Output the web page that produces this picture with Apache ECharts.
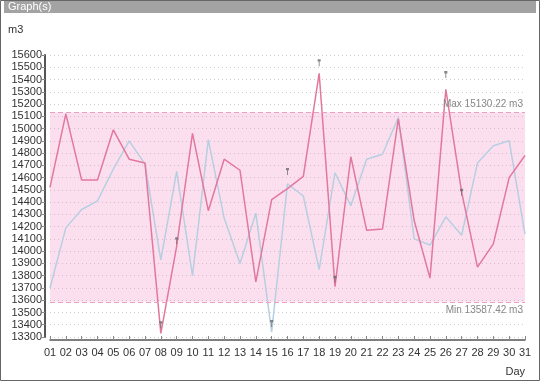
<!DOCTYPE html>
<html>
<head>
<meta charset="utf-8">
<script src="https://cdn.jsdelivr.net/npm/echarts@6/dist/echarts.min.js"></script>
<style>
html,body{margin:0;padding:0;background:#fff;}
#chart{width:540px;height:381px;}
</style>
</head>
<body>
<div id="chart"></div>
<script>
var days = ['01','02','03','04','05','06','07','08','09','10','11','12','13','14','15','16','17','18','19','20','21','22','23','24','25','26','27','28','29','30','31'];
var pinkValues = [14520,15120,14580,14580,14990,14750,14720,13330,14040,14960,14330,14750,14660,13750,14420,14510,14610,15450,13710,14770,14170,14180,15080,14250,13780,15320,14480,13870,14060,14600,14780];
var blueValues = [13700,14190,14340,14410,14670,14900,14710,13930,14650,13800,14910,14270,13900,14310,13340,14550,14450,13850,14640,14370,14750,14790,15090,14100,14050,14280,14130,14720,14860,14900,14140];
var markerDays = ['08','09','15','16','18','19','26','27'];
var markerValues = [13400,14085,13410,14650,15537,13770,15440,14480];
var maxVal = 15130.22;
var minVal = 13587.42;
var yTicks = {min:13300, max:15600, interval:100};
var unitName = 'm3';
var dayName = 'Day';

var chart = echarts.init(document.getElementById('chart'), null, {renderer:'canvas'});
var font = 'Liberation Sans, Arial, sans-serif';
var option = {
  animation:false,
  textStyle:{fontFamily:font},
  grid:{left:50, right:15, top:55, bottom:44, containLabel:false},
  xAxis:{
    type:'category', data:days, boundaryGap:false, offset:3,
    name:dayName, nameLocation:'end', nameGap:0,
    nameTextStyle:{color:'#333', fontSize:11, align:'right', verticalAlign:'top', padding:[26,0,0,0]},
    axisLine:{lineStyle:{color:'#555', width:1.5}},
    axisTick:{inside:true, length:4, alignWithLabel:true, lineStyle:{color:'#888'}},
    axisLabel:{color:'#333', fontSize:11, margin:7, interval:0},
    splitLine:{show:false}
  },
  yAxis:{
    type:'value', min:yTicks.min, max:yTicks.max, interval:yTicks.interval, offset:5,
    axisLine:{show:true, lineStyle:{color:'#555', width:2}},
    axisTick:{show:true, length:3, lineStyle:{color:'#888'}},
    axisLabel:{color:'#333', fontSize:11, margin:3, formatter:function(v){return String(v);}},
    splitLine:{show:true, lineStyle:{color:'#ccc', type:[1,3], width:1}}
  },
  series:[
    {
      type:'line', data:blueValues, symbol:'none',
      lineStyle:{color:'#b7cfe2', width:1.5}, z:3
    },
    {
      type:'line', data:pinkValues, symbol:'none',
      lineStyle:{color:'#e2789f', width:1.5}, z:4,
      markArea:{silent:true, itemStyle:{color:'rgba(244,150,200,0.3)'}, data:[[{yAxis:minVal},{yAxis:maxVal}]]},
      markLine:{silent:true, symbol:'none',
        lineStyle:{color:'#eaa0c4', type:[5,3], width:1.2},
        label:{color:'#888', fontSize:10, fontFamily:font, position:'insideEndTop', distance:[2,3]},
        data:[
          {yAxis:maxVal, label:{formatter:'Max 15130.22 m3', position:'insideEndTop'}},
          {yAxis:minVal, label:{formatter:'Min 13587.42 m3', position:'insideEndBottom'}}
        ]}
    },
    {
      type:'scatter', data:markerDays.map(function(d,i){return [d, markerValues[i]];}),
      symbol:'path://M0,0 L2,0 L2,2 L1.3,2 L1.3,6 L0.7,6 L0.7,2 L0,2 Z',
      symbolSize:[3,7], itemStyle:{color:'#666'}, z:6
    }
  ],
  graphic:[
    {type:'rect', shape:{x:0.5,y:0.5,width:539,height:380}, style:{fill:'none', stroke:'#666', lineWidth:1}, z:100},
    {type:'rect', shape:{x:4,y:1,width:532,height:12}, style:{fill:'#a3a3a3'}, z:90},
    {type:'text', x:8, y:7, style:{text:'Graph(s)', fill:'#fff', font:'11px '+font, textVerticalAlign:'middle'}, z:95},
    {type:'text', x:8, y:30, style:{text:unitName, fill:'#333', font:'11px '+font, textVerticalAlign:'middle'}, z:95}
  ]
};
chart.setOption(option);
</script>
</body>
</html>
